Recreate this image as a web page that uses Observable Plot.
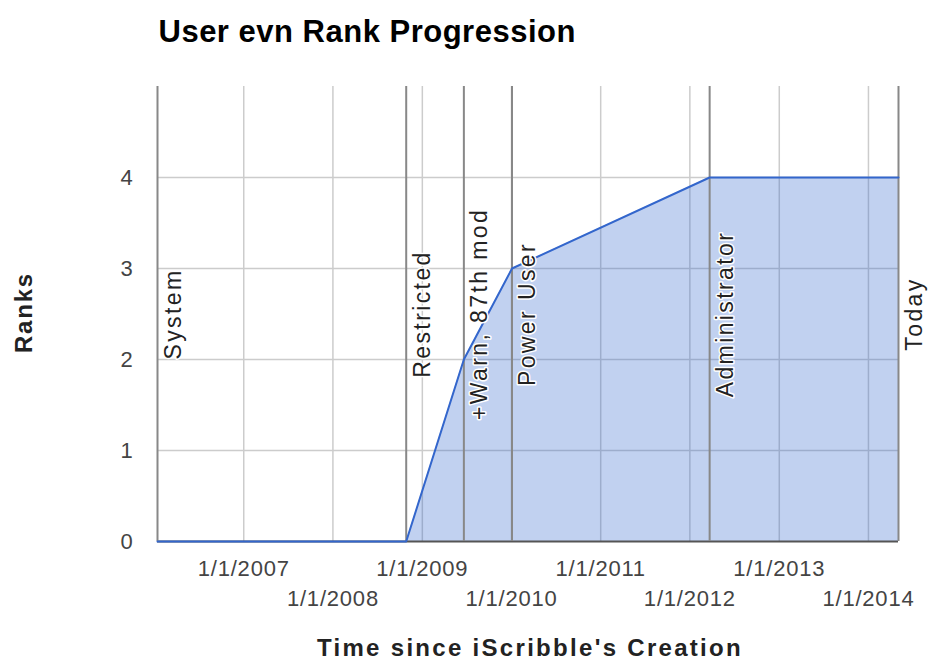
<!DOCTYPE html>
<html>
<head>
<meta charset="utf-8">
<script src="https://cdn.jsdelivr.net/npm/d3@7"></script>
<script src="https://cdn.jsdelivr.net/npm/@observablehq/plot@0.6"></script>
<style>
  body { margin: 0; background: #fff; }
</style>
</head>
<body>
<div id="chart"></div>
<script>
// ---- data ----
const eventNames = ["System", "Restricted", "+Warn, 87th mod", "Power User", "Administrator", "Today"];
const eventDates = ["2006-01-13", "2008-10-27", "2009-06-20", "2010-01-03", "2012-03-22", "2014-05-04"];
const rankValues = [0, 0, 2, 3, 4, 4];
const yearTicks = ["2007-01-01", "2008-01-01", "2009-01-01", "2010-01-01", "2011-01-01", "2012-01-01", "2013-01-01", "2014-01-01"];
const rankTicks = [0, 1, 2, 3, 4];
const rankGrid = [1, 2, 3, 4];
const titleText = "User evn Rank Progression";
const xTitle = "Time since iScribble's Creation";
const yTitle = "Ranks";

const events = eventNames.map((name, i) => ({ name, date: new Date(eventDates[i]), rank: rankValues[i] }));
const ticks = yearTicks.map(d => new Date(d));
const ticksRow1 = ticks.filter((d, i) => i % 2 === 0);
const ticksRow2 = ticks.filter((d, i) => i % 2 === 1);
const fmt = d3.utcFormat("%-m/%-d/%Y");

const chart = Plot.plot({
  width: 928,
  height: 661,
  marginLeft: 157,
  marginRight: 30,
  marginTop: 86,
  marginBottom: 120,
  style: { fontFamily: "Arial, 'Liberation Sans', sans-serif", background: "white", overflow: "visible" },
  x: { type: "utc", domain: [events[0].date, events[events.length - 1].date] },
  y: { domain: [0, 5] },
  marks: [
    Plot.ruleX(ticks, { x: d => d, stroke: "#cccccc", strokeWidth: 1.5 }),
    Plot.ruleY(rankGrid, { y: d => d, stroke: "#cccccc", strokeWidth: 1.5 }),
    Plot.areaY(events, { x: "date", y: "rank", fill: "#3366cc", fillOpacity: 0.3 }),
    Plot.ruleY([0], { y: d => d, stroke: "#555555", strokeWidth: 2 }),
    Plot.ruleX(events, { x: "date", stroke: "#888888", strokeWidth: 2 }),
    Plot.lineY(events, { x: "date", y: "rank", stroke: "#3366cc", strokeWidth: 2 }),
    Plot.text(events, {
      x: "date", text: "name", rotate: -90, textAnchor: "middle", lineAnchor: "top",
      dx: 7, fontSize: 23, fill: "#222", stroke: "white", strokeWidth: 3, paintOrder: "stroke",
      ariaDescription: "annotation"
    }),
    Plot.axisY(rankTicks, { tickSize: 0, tickPadding: 24, tickFormat: d3.format("d"), fontSize: 22, fill: "#444", label: null, ariaDescription: "ytick" }),
    Plot.axisX(ticksRow1, { tickSize: 0, tickPadding: 19, tickFormat: fmt, fontSize: 22, fill: "#444", label: null, ariaDescription: "xtick" }),
    Plot.axisX(ticksRow2, { tickSize: 0, tickPadding: 49, tickFormat: fmt, fontSize: 22, fill: "#444", label: null, ariaDescription: "xtick" }),
    Plot.text([titleText], {
      text: d => d, frameAnchor: "top-left", textAnchor: "start", lineAnchor: "bottom",
      dx: 1, dy: -44.3, fontSize: 31, fontWeight: "bold", fill: "#000", ariaDescription: "chart-title"
    }),
    Plot.text([xTitle], {
      text: d => d, frameAnchor: "bottom", textAnchor: "middle", lineAnchor: "bottom",
      dx: 2, dy: 114.7, fontSize: 24, fontWeight: "bold", fill: "#222", ariaDescription: "x-title"
    }),
    Plot.text([yTitle], {
      text: d => d, frameAnchor: "left", textAnchor: "middle", lineAnchor: "bottom", rotate: -90,
      dx: -126, dy: -1.5, fontSize: 24, fontWeight: "bold", fill: "#222", ariaDescription: "y-title"
    })
  ]
});

// letter spacing to match the reference's wider hinted glyph advances
const spacing = { "annotation": 2.4, "ytick": 0.8, "xtick": 0.8, "chart-title": 0.5, "x-title": 2.3, "y-title": 1.8 };
d3.select(chart).selectAll("[aria-description]").each(function () {
  const s = spacing[this.getAttribute("aria-description")];
  if (s != null) d3.select(this).selectAll("text").style("letter-spacing", s + "px");
});
document.getElementById("chart").appendChild(chart);
</script>
</body>
</html>
